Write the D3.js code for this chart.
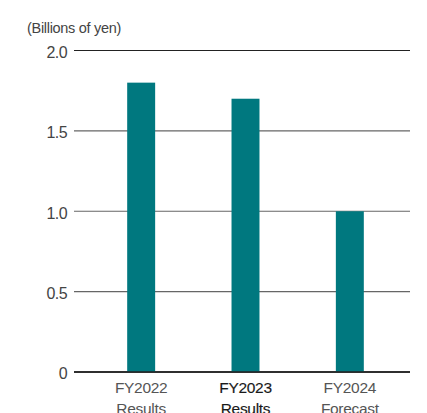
<!DOCTYPE html>
<html>
<head>
<meta charset="utf-8">
<script src="https://cdn.jsdelivr.net/npm/d3@7"></script>
<style>
  body { margin: 0; background: #fff; }
  svg text { font-family: "Liberation Sans", Arial, sans-serif; }
</style>
</head>
<body>
<div id="chart"></div>
<script>
const categories = ["FY2022", "FY2023", "FY2024"];
const subLabels = ["Results", "Results", "Forecast"];
const values = [1.8, 1.7, 1.0];
const yTicks = [0, 0.5, 1.0, 1.5, 2.0];
const yTickLabels = ["0", "0.5", "1.0", "1.5", "2.0"];
const unitLabel = "(Billions of yen)";

const width = 427, height = 413;
const svg = d3.select("#chart").append("svg")
    .attr("width", width).attr("height", height);

const y = d3.scaleLinear().domain([0, 2]).range([372, 50.5]);
const x = d3.scaleBand().domain(categories)
    .range([89, 402]).paddingInner(0.732).paddingOuter(0.366);

const gridLeft = 74, gridRight = 410;

// gridlines
svg.append("g").selectAll("line").data(yTicks).join("line")
    .attr("x1", gridLeft).attr("x2", gridRight)
    .attr("y1", d => y(d)).attr("y2", d => y(d))
    .attr("stroke", d => d === 0 || d === 2 ? "#222" : "#666")
    .attr("stroke-width", d => d === 0 ? 1.5 : 1.1);

// tick labels
svg.append("g").selectAll("text").data(yTicks).join("text")
    .attr("x", 67).attr("y", d => y(d) + 1.5)
    .attr("dy", "0.36em")
    .attr("text-anchor", "end")
    .attr("font-size", 16)
    .attr("letter-spacing", -0.6)
    .attr("fill", "#444")
    .text((d, i) => yTickLabels[i]);

svg.append("text")
    .attr("x", 27).attr("y", 33)
    .attr("font-size", 14.5)
    .attr("letter-spacing", -0.3)
    .attr("fill", "#444")
    .text(unitLabel);

// bars
svg.append("g").selectAll("rect").data(values).join("rect")
    .attr("x", (d, i) => x(categories[i]))
    .attr("width", x.bandwidth())
    .attr("y", d => y(d))
    .attr("height", d => y(0) - y(d))
    .attr("fill", "#00787f");

// redraw baseline over bars
svg.append("line")
    .attr("x1", gridLeft).attr("x2", gridRight)
    .attr("y1", y(0)).attr("y2", y(0))
    .attr("stroke", "#222").attr("stroke-width", 1.5);

// category labels (second line is clipped by the frame, as in the source)
const lab = svg.append("g").selectAll("text").data(categories).join("text")
    .attr("x", d => x(d) + x.bandwidth() / 2)
    .attr("text-anchor", "middle")
    .attr("font-size", 15.5)
    .attr("letter-spacing", -0.3)
    .attr("fill", (d, i) => i === 1 ? "#1a1a1a" : "#555")
    .attr("stroke", (d, i) => i === 1 ? "#1a1a1a" : "none")
    .attr("stroke-width", 0.15);
lab.append("tspan").attr("x", d => x(d) + x.bandwidth() / 2).attr("y", 393).text(d => d);
lab.append("tspan").attr("x", d => x(d) + x.bandwidth() / 2).attr("y", 414).text((d, i) => subLabels[i]);
</script>
</body>
</html>
